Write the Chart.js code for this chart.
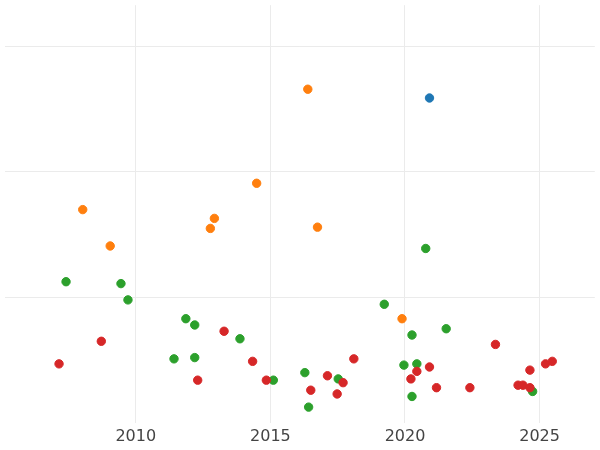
<!DOCTYPE html>
<html><head><meta charset="utf-8">
<script src="https://cdn.jsdelivr.net/npm/chart.js@4"></script>
<style>html,body{margin:0;padding:0;background:#fff}#w{width:600px;height:450px}</style>
</head><body><div id="w"><canvas id="c"></canvas></div>
<script>
const blueX=[2020.91], blueY=[2.59];
const orangeX=[2016.39,2014.49,2008.03,2012.92,2012.77,2016.75,2009.05,2019.89];
const orangeY=[2.66,1.91,1.70,1.63,1.55,1.56,1.41,0.83];
const greenX=[2007.41,2009.45,2009.71,2011.86,2012.19,2013.87,2011.42,2012.19,2015.11,2016.28,2016.42,2017.52,2019.23,2020.77,2020.26,2021.53,2019.96,2020.44,2020.26,2024.74];
const greenY=[1.125,1.11,0.98,0.83,0.78,0.67,0.51,0.52,0.34,0.40,0.125,0.35,0.945,1.39,0.70,0.75,0.46,0.47,0.21,0.25];
const redX=[2007.15,2008.72,2013.28,2012.30,2014.34,2014.85,2016.50,2017.12,2017.70,2017.48,2018.10,2020.22,2020.44,2020.91,2021.17,2022.41,2023.36,2024.20,2024.38,2024.64,2024.64,2025.22,2025.47];
const redY=[0.47,0.65,0.73,0.34,0.49,0.34,0.26,0.375,0.32,0.23,0.51,0.35,0.41,0.445,0.28,0.28,0.625,0.30,0.30,0.28,0.42,0.47,0.49];
const xTicks=[2010,2015,2020,2025];
const pts=(xs,ys)=>xs.map((x,i)=>({x,y:ys[i]}));
const ds=(xs,ys,c)=>({data:pts(xs,ys),backgroundColor:c,borderColor:c,pointRadius:4.2,pointHoverRadius:4.2});
new Chart(document.getElementById('c'),{type:'scatter',
data:{datasets:[ds(redX,redY,'#d62728'),ds(greenX,greenY,'#2ca02c'),ds(orangeX,orangeY,'#ff7f0e'),ds(blueX,blueY,'#1f77b4')]},
options:{responsive:true,maintainAspectRatio:false,animation:false,
layout:{padding:0},
plugins:{legend:{display:false},tooltip:{enabled:false}},
scales:{
x:{type:'linear',min:2005.15,max:2027.05,afterBuildTicks:a=>{a.ticks=xTicks.map(v=>({value:v}));},
ticks:{color:'#444',font:{family:'DejaVu Sans',size:16},padding:4,callback:v=>String(v)},
grid:{color:'#ebebeb',drawTicks:false},border:{display:false}},
y:{min:0,max:3.33,afterBuildTicks:a=>{a.ticks=[1,2,3].map(v=>({value:v}));},
ticks:{display:false},grid:{color:'#ebebeb',drawTicks:false},border:{display:false}}
}}});
</script></body></html>
